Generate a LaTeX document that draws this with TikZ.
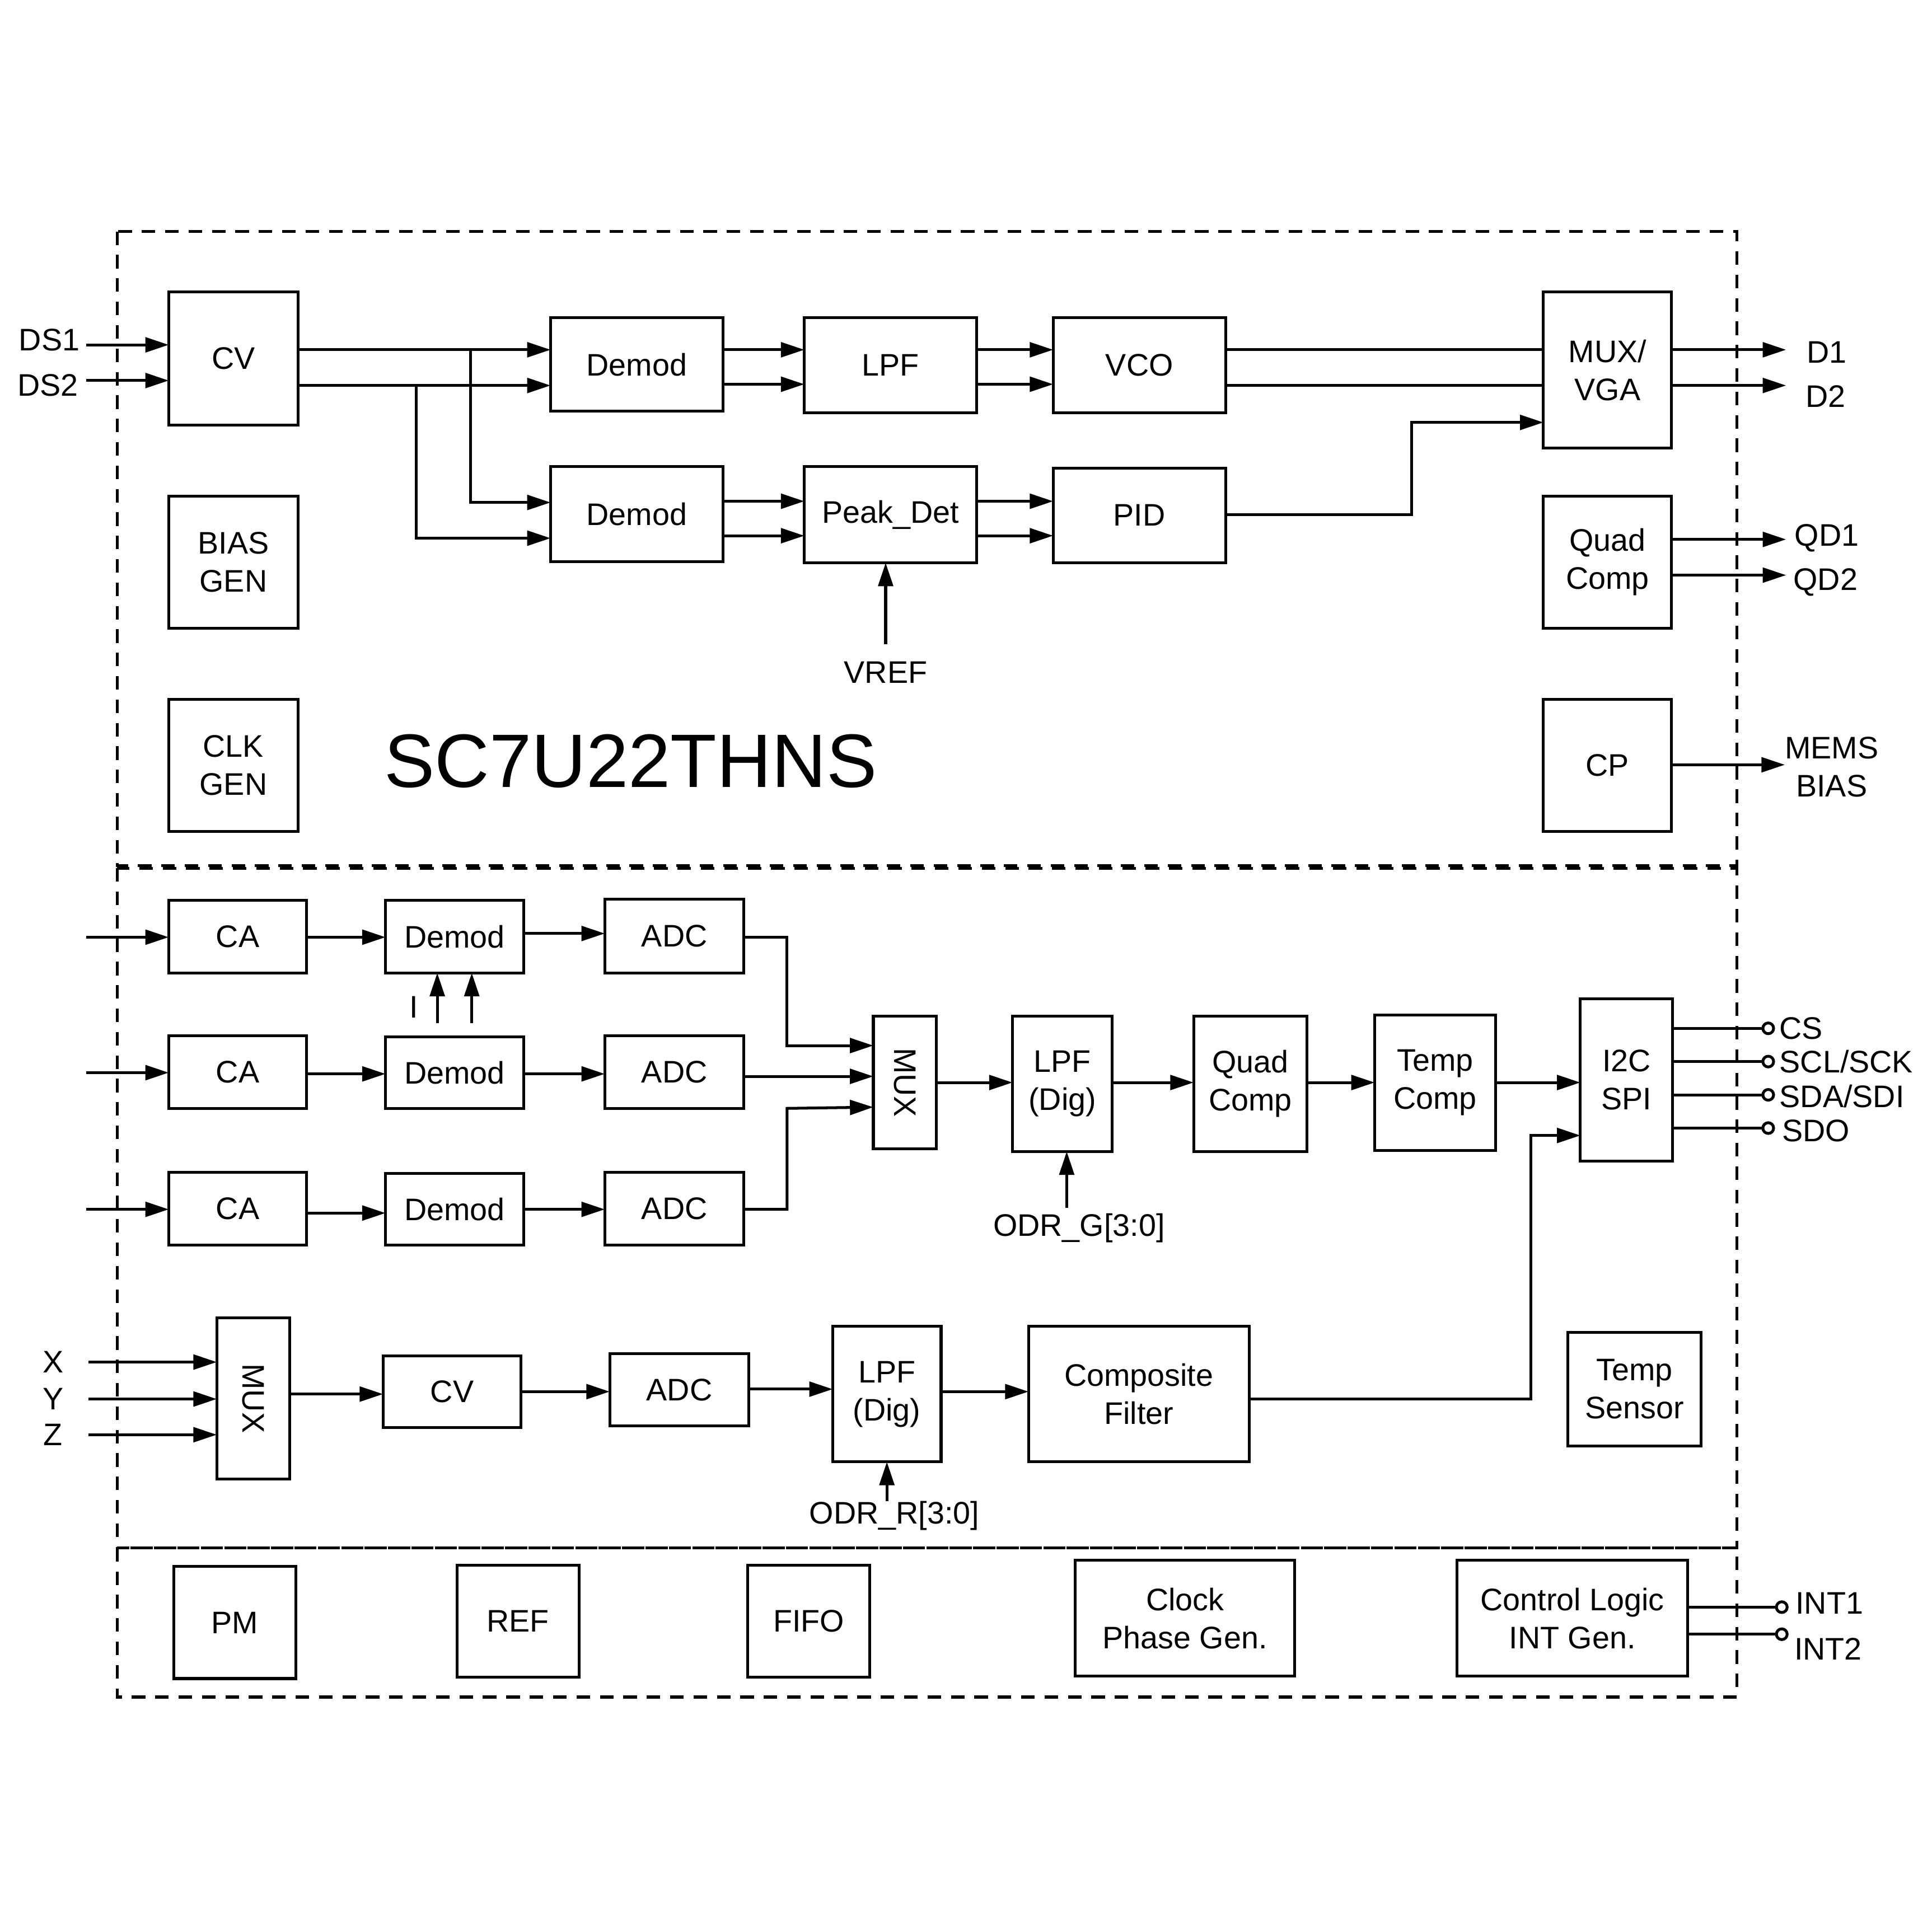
\documentclass[tikz,border=0pt]{standalone}
\usepackage{fontspec}
\setmainfont{Liberation Sans}
\usepackage{graphicx}
\usetikzlibrary{arrows.meta}
\newcommand\fs{\fontsize{7.2pt}{8.8pt}\selectfont}
\newcommand\mybox[6]{%
 \pgfmathsetmacro\mbw{(#4-#2)*0.1}%
 \pgfmathsetmacro\mbh{(#5-#3)*0.1}%
 \node[blk, minimum width=\mbw mm, minimum height=\mbh mm] (#1) at ({(#2+#4)/2},{(#3+#5)/2}) {#6};}
\begin{document}
\begin{tikzpicture}[x=0.1mm,y=-0.1mm,
 blk/.style={draw, line width=0.65pt, inner sep=0pt, outer sep=0pt, align=center, font=\fs},
 lbl/.style={inner sep=0pt, font=\fs, align=center},
 wire/.style={line width=0.65pt},
 arr/.style={wire, -{Triangle[length=1.9mm,width=1.2mm]}},
 term/.style={wire, -{Circle[open,length=1.1mm,width=1.1mm]}},
 sect/.style={line width=0.65pt, dash pattern=on 1.1mm off 0.8mm}]
\useasboundingbox (0,0) rectangle (1568,1568);
% sections
\draw[sect] (95,188) rectangle (1410,703);
\draw[sect] (95,705) rectangle (1410,1257);
\draw[sect] (95,1257) rectangle (1410,1378);
% ---------- top section ----------
\mybox{cv}{137}{237}{242}{345}{CV}
\mybox{bias}{137}{403}{242}{510}{BIAS\\GEN}
\mybox{clk}{137}{568}{242}{675}{CLK\\GEN}
\mybox{dma}{447}{258}{587}{334}{Demod}
\mybox{dmb}{447}{379}{587}{456}{Demod}
\mybox{lpf}{653}{258}{793}{335}{LPF}
\mybox{pk}{653}{379}{793}{457}{Peak\_Det}
\mybox{vco}{855}{258}{995}{335}{VCO}
\mybox{pid}{855}{380}{995}{457}{PID}
\mybox{mv}{1253}{237}{1357}{364}{MUX/\\VGA}
\mybox{qc}{1253}{403}{1357}{510}{Quad\\Comp}
\mybox{cp}{1253}{568}{1357}{675}{CP}
\node[inner sep=0pt, font=\fontsize{17.5pt}{20pt}\selectfont] (title) at (512,618) {SC7U22THNS};

\coordinate (ds1) at (70,280);
\coordinate (ds2) at (70,309);
\node[lbl] (lds1) at (40,276) {DS1};
\node[lbl] (lds2) at (39,313) {DS2};
\draw[arr] (ds1) -- (cv.west |- ds1);
\draw[arr] (ds2) -- (cv.west |- ds2);
\draw[arr] (cv.east |- 0,284) -- (dma.west |- 0,284);
\draw[arr] (cv.east |- 0,313) -- (dma.west |- 0,313);
\coordinate (j1) at (382,284);
\coordinate (j2) at (338,313);
\draw[arr] (j1) |- (dmb.west |- 0,408);
\draw[arr] (j2) |- (dmb.west |- 0,437);
\draw[arr] (dma.east |- 0,284) -- (lpf.west |- 0,284);
\draw[arr] (dma.east |- 0,312) -- (lpf.west |- 0,312);
\draw[arr] (lpf.east |- 0,284) -- (vco.west |- 0,284);
\draw[arr] (lpf.east |- 0,312) -- (vco.west |- 0,312);
\draw[arr] (dmb.east |- 0,407) -- (pk.west |- 0,407);
\draw[arr] (dmb.east |- 0,435) -- (pk.west |- 0,435);
\draw[arr] (pk.east |- 0,407) -- (pid.west |- 0,407);
\draw[arr] (pk.east |- 0,435) -- (pid.west |- 0,435);
\coordinate (vref) at (719,523);
\node[lbl] (lvref) at (719,546) {VREF};
\draw[arr] (vref) -- (pk.south -| vref);
\draw[wire] (vco.east |- 0,284) -- (mv.west |- 0,284);
\draw[wire] (vco.east |- 0,313) -- (mv.west |- 0,313);
\draw[arr] (pid.east |- 0,418) -| (1146,343) -- (mv.west |- 0,343);
\coordinate (d1) at (1450,284);
\coordinate (d2) at (1450,313);
\draw[arr] (mv.east |- d1) -- (d1);
\draw[arr] (mv.east |- d2) -- (d2);
\node[lbl] (ld1) at (1483,286) {D1};
\node[lbl] (ld2) at (1482,322) {D2};
\coordinate (qd1) at (1450,438);
\coordinate (qd2) at (1450,467);
\draw[arr] (qc.east |- qd1) -- (qd1);
\draw[arr] (qc.east |- qd2) -- (qd2);
\node[lbl] (lqd1) at (1483,437) {QD1};
\node[lbl] (lqd2) at (1482,473) {QD2};
\coordinate (mb) at (1449,621);
\draw[arr] (cp.east |- mb) -- (mb);
\node[lbl] (lmb) at (1487,623) {MEMS\\BIAS};

% ---------- middle section ----------
\mybox{ca1}{137}{731}{249}{790}{CA}
\mybox{ca2}{137}{841}{249}{900}{CA}
\mybox{ca3}{137}{952}{249}{1011}{CA}
\mybox{de1}{313}{731}{425}{790}{Demod}
\mybox{de2}{313}{842}{425}{900}{Demod}
\mybox{de3}{313}{953}{425}{1011}{Demod}
\mybox{ad1}{491}{730}{604}{790}{ADC}
\mybox{ad2}{491}{841}{604}{900}{ADC}
\mybox{ad3}{491}{952}{604}{1011}{ADC}
\mybox{mux}{709}{825}{760}{933}{\rotatebox{-90}{MUX}}
\mybox{lpg}{822}{825}{903}{935}{LPF\\(Dig)}
\mybox{qc2}{969}{825}{1061}{935}{Quad\\Comp}
\mybox{tc}{1116}{824}{1214}{934}{Temp\\Comp}
\mybox{i2c}{1283}{811}{1358}{943}{I2C\\SPI}
\mybox{mux2}{176}{1070}{235}{1201}{\rotatebox{-90}{MUX}}
\mybox{cv2}{311}{1101}{423}{1159}{CV}
\mybox{ad4}{495}{1099}{608}{1158}{ADC}
\mybox{lpr}{676}{1077}{764}{1187}{LPF\\(Dig)}
\mybox{cf}{835}{1077}{1014}{1187}{Composite\\Filter}
\mybox{ts}{1273}{1082}{1381}{1174}{Temp\\Sensor}

\coordinate (in1) at (70,761);
\coordinate (in2) at (70,871);
\coordinate (in3) at (70,982);
\draw[arr] (in1) -- (ca1.west |- in1);
\draw[arr] (in2) -- (ca2.west |- in2);
\draw[arr] (in3) -- (ca3.west |- in3);
\draw[arr] (ca1.east |- 0,761) -- (de1.west |- 0,761);
\draw[arr] (ca2.east |- 0,872) -- (de2.west |- 0,872);
\draw[arr] (ca3.east |- 0,985) -- (de3.west |- 0,985);
\draw[arr] (de1.east |- 0,758) -- (ad1.west |- 0,758);
\draw[arr] (de2.east |- 0,872) -- (ad2.west |- 0,872);
\draw[arr] (de3.east |- 0,982) -- (ad3.west |- 0,982);
\coordinate (ia) at (355,831);
\coordinate (ib) at (383,831);
\draw[arr] (ia) -- (de1.south -| ia);
\draw[arr] (ib) -- (de1.south -| ib);
\node[lbl] (li) at (336,818) {I};
\draw[arr] (ad1.east |- 0,761) -| (639,849) -- (mux.west |- 0,849);
\draw[arr] (ad2.east |- 0,874) -- (mux.west |- 0,874);
\draw[arr] (ad3.east |- 0,982) -| (639,900) -- (mux.west |- 0,899);
\draw[arr] (mux.east |- 0,879) -- (lpg.west |- 0,879);
\draw[arr] (lpg.east |- 0,879) -- (qc2.west |- 0,879);
\draw[arr] (qc2.east |- 0,879) -- (tc.west |- 0,879);
\draw[arr] (tc.east |- 0,879) -- (i2c.west |- 0,879);
\coordinate (odrg) at (866,981);
\draw[arr] (odrg) -- (lpg.south -| odrg);
\node[lbl] (lodrg) at (876,997) {ODR\_G[3:0]};
\coordinate (cs) at (1441,835);
\coordinate (scl) at (1441,862);
\coordinate (sda) at (1441,889);
\coordinate (sdo) at (1441,916);
\draw[term] (i2c.east |- cs) -- (cs);
\draw[term] (i2c.east |- scl) -- (scl);
\draw[term] (i2c.east |- sda) -- (sda);
\draw[term] (i2c.east |- sdo) -- (sdo);
\node[lbl, anchor=west] (lcs) at (1444,835) {CS};
\node[lbl, anchor=west] (lscl) at (1444,862) {SCL/SCK};
\node[lbl, anchor=west] (lsda) at (1444,890) {SDA/SDI};
\node[lbl, anchor=west] (lsdo) at (1446,918) {SDO};
\draw[arr] (cf.east |- 0,1136) -| (1243,922) -- (i2c.west |- 0,922);
\coordinate (xin) at (72,1106);
\coordinate (yin) at (72,1136);
\coordinate (zin) at (72,1165);
\draw[arr] (xin) -- (mux2.west |- xin);
\draw[arr] (yin) -- (mux2.west |- yin);
\draw[arr] (zin) -- (mux2.west |- zin);
\node[lbl] (lx) at (43,1106) {X};
\node[lbl] (ly) at (43,1136) {Y};
\node[lbl] (lz) at (43,1165) {Z};
\draw[arr] (mux2.east |- 0,1132) -- (cv2.west |- 0,1132);
\draw[arr] (cv2.east |- 0,1130) -- (ad4.west |- 0,1130);
\draw[arr] (ad4.east |- 0,1128) -- (lpr.west |- 0,1128);
\draw[arr] (lpr.east |- 0,1130) -- (cf.west |- 0,1130);
\coordinate (odrr) at (720,1219);
\draw[arr] (odrr) -- (lpr.south -| odrr);
\node[lbl] (lodrr) at (726,1231) {ODR\_R[3:0]};

% ---------- bottom section ----------
\mybox{pm}{141}{1272}{240}{1363}{PM}
\mybox{ref}{371}{1271}{470}{1362}{REF}
\mybox{fifo}{607}{1271}{706}{1362}{FIFO}
\mybox{cpg}{873}{1267}{1051}{1361}{Clock\\Phase Gen.}
\mybox{ctl}{1183}{1267}{1370}{1361}{Control Logic\\INT Gen.}
\coordinate (int1) at (1452,1305);
\coordinate (int2) at (1452,1327);
\draw[term] (ctl.east |- int1) -- (int1);
\draw[term] (ctl.east |- int2) -- (int2);
\node[lbl, anchor=west] (lint1) at (1457,1302) {INT1};
\node[lbl, anchor=west] (lint2) at (1456,1339) {INT2};
\end{tikzpicture}
\end{document}
